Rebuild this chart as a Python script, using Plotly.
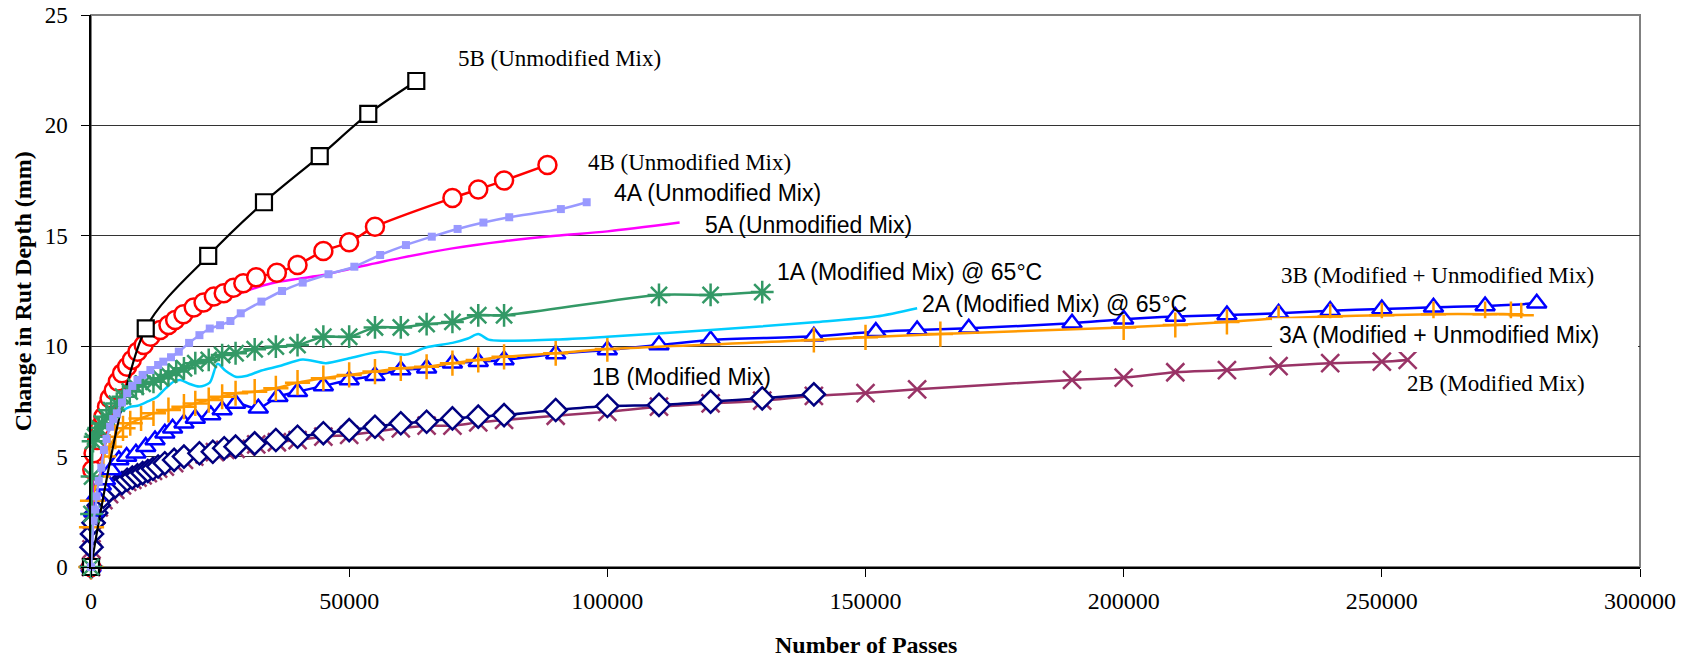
import plotly.graph_objects as go

# ---------------- data ----------------
x_5B = [0, 10600, 22700, 33500, 44300, 53700, 63000]
y_5B = [0, 10.81, 14.09, 16.52, 18.61, 20.52, 22.01]

x_4B = [0, 250, 500, 1200, 1800, 2400, 3100, 3600, 4400, 5200, 6000, 7000, 7900, 9000,
        10200, 11500, 13400, 15000, 16300, 17900, 19900, 21800, 23800, 25700, 27600,
        29500, 32000, 36000, 40000, 45000, 50000, 55000, 70000, 75000, 80000, 88400]
y_4B = [0, 4.4, 5.15, 5.75, 6.35, 6.8, 7.26, 7.64, 8.0, 8.4, 8.77, 9.07, 9.38, 9.75,
        10.05, 10.43, 10.73, 10.96, 11.19, 11.45, 11.75, 11.98, 12.25, 12.4, 12.65,
        12.85, 13.12, 13.33, 13.68, 14.31, 14.71, 15.41, 16.71, 17.1, 17.5, 18.21]

x_4A = [0, 500, 800, 1100, 1500, 2000, 2500, 3000, 3700, 4300, 5000, 6000, 7000, 8000,
        9000, 10000, 11500, 13000, 14000, 15500, 17000, 19000, 21000, 23000, 25000,
        27000, 29000, 33000, 37000, 41000, 46000, 51000, 56000, 61000, 66000, 71000,
        76000, 81000, 91000, 96000]
y_4A = [0, 2.1, 2.6, 3.2, 3.9, 4.5, 5.3, 5.8, 6.35, 6.7, 6.96, 7.45, 7.87, 8.2,
        8.47, 8.7, 8.92, 9.15, 9.3, 9.5, 9.75, 10.15, 10.5, 10.8, 10.95,
        11.14, 11.49, 12.02, 12.5, 12.88, 13.26, 13.6, 14.13, 14.58, 14.96, 15.31,
        15.6, 15.84, 16.21, 16.52]

x_5A = [0, 500, 1000, 2000, 3000, 4000, 5000, 6000, 8000, 10000, 12000, 15000, 18000,
        22000, 26000, 30000, 35000, 40000, 45000, 50000, 55000, 60000, 70000, 80000,
        90000, 100000, 114000]
y_5A = [0, 4.5, 5.6, 6.6, 7.2, 7.8, 8.4, 8.8, 9.5, 10.1, 10.6, 11.1, 11.5,
        11.9, 12.15, 12.5, 12.85, 13.05, 13.22, 13.5, 13.75, 14.0, 14.43, 14.75,
        15.0, 15.2, 15.6]

x_1A = [0, 100, 200, 400, 800, 1500, 2100, 3000, 3900, 5000, 6200, 7500, 8700, 10000,
        12100, 13500, 15000, 16500, 18000, 20200, 22800, 25400, 28000, 31700, 35800,
        40000, 45000, 50000, 55000, 60000, 65000, 70000, 75000, 80000, 110000, 120000,
        130000]
y_1A = [0, 2.4, 4.1, 5.7, 5.9, 6.3, 6.5, 6.8, 7.1, 7.4, 7.71, 7.95, 8.17, 8.3,
        8.39, 8.55, 8.7, 8.85, 9.0, 9.23, 9.38, 9.6, 9.68, 9.86, 9.98,
        10.05, 10.43, 10.43, 10.85, 10.85, 11.0, 11.1, 11.4, 11.4, 12.32, 12.32,
        12.45]

x_2A = [0, 500, 1000, 2000, 3000, 4000, 5000, 6300, 7600, 9000, 11000, 12800, 14500,
        16000, 17300, 19000, 21000, 23000, 24500, 26000, 28000, 30000, 33000, 36500,
        41000, 45500, 50000, 56000, 61000, 65000, 70000, 73000, 75000, 77000, 80000,
        90000, 100000, 120000, 140000, 152000, 160000]
y_2A = [0, 4.5, 5.3, 6.0, 6.4, 6.7, 6.9, 7.11, 7.26, 7.3, 7.5, 7.71, 8.1,
        8.39, 8.47, 8.3, 8.17, 8.35, 9.2, 8.9, 8.62, 8.65, 8.9, 9.1,
        9.4, 9.23, 9.45, 9.75, 9.62, 9.95, 10.15, 10.35, 10.55, 10.3, 10.25,
        10.3, 10.43, 10.73, 11.08, 11.34, 11.72]

x_3B = [0, 500, 1000, 2000, 2800, 3900, 5400, 6900, 8700, 10600, 12400, 14300, 15800,
        18000, 20200, 23200, 25400, 28000, 32400, 36200, 40000, 45000, 50000, 55000,
        60000, 65000, 70000, 75000, 80000, 90000, 100000, 110000, 120000, 140000,
        152000, 160000, 170000, 190000, 200000, 210000, 220000, 230000, 240000,
        250000, 260000, 270000, 280000]
y_3B = [0, 2.5, 3.2, 3.7, 3.94, 4.39, 4.85, 5.0, 5.15, 5.45, 5.75, 6.06, 6.28,
        6.51, 6.73, 6.88, 7.11, 7.41, 7.19, 7.71, 7.94, 8.2, 8.47, 8.66,
        8.92, 9.0, 9.23, 9.3, 9.38, 9.65, 9.83, 10.05, 10.28, 10.45,
        10.66, 10.73, 10.81, 11.04, 11.22, 11.34, 11.41, 11.49, 11.61,
        11.68, 11.76, 11.82, 11.94]

x_3A = [0, 100, 300, 1300, 2400, 3600, 4700, 6200, 7600, 9700, 12100, 15000, 18000,
        20200, 22800, 25400, 28000, 31700, 35800, 40000, 45000, 50000, 55000, 60000,
        65000, 70000, 75000, 80000, 90000, 100000, 140000, 150000, 164500, 200000,
        210000, 220000, 230000, 240000, 250000, 260000, 270000, 275000, 277000]
y_3A = [0, 1.8, 3.0, 4.1, 5.0, 5.45, 5.9, 6.28, 6.51, 6.73, 6.96, 7.11, 7.26,
        7.41, 7.56, 7.71, 7.87, 7.94, 8.09, 8.35, 8.55, 8.7, 8.85, 9.0,
        9.07, 9.23, 9.38, 9.52, 9.68, 9.87, 10.28, 10.4, 10.55, 10.85,
        10.96, 11.1, 11.26, 11.35, 11.4, 11.45, 11.45, 11.45, 11.4]

x_1B = [0, 100, 200, 500, 1000, 1500, 2400, 3500, 4700, 6000, 7000, 8000, 9000, 10000,
        11000, 12000, 13000, 14300, 16100, 18000, 21000, 23600, 25800, 28000, 31700,
        35800, 40000, 45000, 50000, 55000, 60000, 65000, 70000, 75000, 80000, 90000,
        100000, 110000, 120000, 130000, 140000]
y_1B = [0, 0.9, 1.5, 2.0, 2.45, 2.8, 3.18, 3.45, 3.64, 3.8, 3.95, 4.05, 4.15, 4.25,
        4.35, 4.45, 4.55, 4.7, 4.85, 5.0, 5.15, 5.22, 5.38, 5.45, 5.6,
        5.75, 5.9, 6.06, 6.2, 6.35, 6.51, 6.58, 6.73, 6.81, 6.88, 7.11,
        7.29, 7.34, 7.49, 7.64, 7.82]

x_2B = [0, 100, 200, 500, 1000, 1500, 2400, 3500, 4700, 6000, 7000, 8000, 9000, 10000,
        11000, 12000, 13000, 14300, 16100, 18000, 20000, 22000, 24000, 26000, 28000,
        30000, 32000, 36000, 40000, 45000, 50000, 55000, 60000, 65000, 70000, 75000,
        80000, 90000, 100000, 110000, 120000, 130000, 140000, 150000, 160000, 190000,
        200000, 210000, 220000, 230000, 240000, 250000, 255000]
y_2B = [0, 0.8, 1.4, 1.9, 2.35, 2.7, 3.03, 3.3, 3.49, 3.7, 3.85, 3.95, 4.05, 4.15,
        4.25, 4.35, 4.45, 4.55, 4.7, 4.85, 5.0, 5.1, 5.2, 5.3, 5.35,
        5.45, 5.55, 5.65, 5.75, 5.9, 5.98, 6.13, 6.28, 6.4, 6.4, 6.55,
        6.66, 6.85, 7.03, 7.26, 7.41, 7.53, 7.75, 7.88, 8.05, 8.47,
        8.58, 8.82, 8.92, 9.1, 9.23, 9.3, 9.38]

x_ticks = [0, 50000, 100000, 150000, 200000, 250000, 300000]
y_ticks = [0, 5, 10, 15, 20, 25]

label_texts = ["5B (Unmodified Mix)", "4B (Unmodified Mix)", "4A (Unmodified Mix)",
               "5A (Unmodified Mix)", "1A (Modified Mix) @ 65°C",
               "2A (Modified Mix) @ 65°C", "3B (Modified + Unmodified Mix)",
               "3A (Modified + Unmodified Mix)", "1B (Modified Mix)", "2B (Modified Mix)"]

# ---------------- layout geometry (page pixels) ----------------
W, H = 1692, 662
OFF = 0   # body margin is removed by the post script, so page px == figure px
PX0, PX1, PY0, PY1 = 90.7, 1640.0, 567.0, 14.7   # plot area on the page
X0, X1, Y0, Y1 = PX0 - OFF, PX1 - OFF, PY0 - OFF, PY1 - OFF  # in figure pixels


def pp(px, py):
    """page pixel -> paper coordinates"""
    fx, fy = px - OFF, py - OFF
    return (fx - X0) / (X1 - X0), (Y0 - fy) / (Y0 - Y1)


SERIF = "Liberation Serif"
SANS = "Liberation Sans"

# label positions: (left px, centre py, font) on the page
label_pos = [(456, 58, SERIF), (586, 162, SERIF), (612, 193, SANS), (703, 225, SANS),
             (775, 272, SANS), (920, 304, SANS), (1279, 275, SERIF), (1277, 335, SANS),
             (590, 377, SANS), (1405, 383, SERIF)]

fig = go.Figure()


def add(x, y, color, width, marker=None, name=""):
    kw = dict(x=x, y=y, name=name, line=dict(color=color, width=width, shape="spline",
                                            smoothing=0.8),
              cliponaxis=False, showlegend=False, hoverinfo="x+y+name")
    if marker is None:
        kw["mode"] = "lines"
    else:
        kw["mode"] = "lines+markers"
        kw["marker"] = marker
    fig.add_trace(go.Scatter(**kw))


add(x_2B, y_2B, "#993366", 2.5,
    dict(symbol="x-thin-open", size=18, line=dict(color="#993366", width=2.5)), "2B")
add(x_1B, y_1B, "#000080", 2.5,
    dict(symbol="diamond", size=17, color="white", line=dict(color="#000080", width=2.5)), "1B")
add(x_3B, y_3B, "#0000FF", 2.5,
    dict(symbol="triangle-up", size=17, color="white", line=dict(color="#0000FF", width=2.5)), "3B")
add(x_3A, y_3A, "#FF9900", 2.5,
    dict(symbol="cross-thin-open", size=18, line=dict(color="#FF9900", width=2.5)), "3A")
add(x_2A, y_2A, "#00CCFF", 2.5, None, "2A")
add(x_5A, y_5A, "#FF00FF", 2.5, None, "5A")
add(x_4B, y_4B, "#FF0000", 2.5,
    dict(symbol="circle", size=18, color="white", line=dict(color="#FF0000", width=2.5)), "4B")
add(x_5B, y_5B, "#000000", 2.2,
    dict(symbol="square", size=16, color="white", line=dict(color="#000000", width=2.2)), "5B")
add(x_1A, y_1A, "#339966", 2.5,
    dict(symbol="asterisk-open", size=19, line=dict(color="#339966", width=2.5)), "1A")
add(x_4A, y_4A, "#9999FF", 2.5,
    dict(symbol="square", size=8, color="#9999FF", line=dict(width=0)), "4A")

annotations = []
for txt, (lx, ly, fam) in zip(label_texts, label_pos):
    ax, ay = pp(lx, ly)
    annotations.append(dict(x=ax, y=ay, xref="paper", yref="paper", text=txt,
                            showarrow=False, xanchor="left", yanchor="middle",
                            font=dict(family=fam, size=23, color="black")))

# axis titles
tx, ty = pp((PX0 + PX1) / 2, 645)
annotations.append(dict(x=tx, y=ty, xref="paper", yref="paper", text="<b>Number of Passes</b>",
                        showarrow=False, xanchor="center", yanchor="middle",
                        font=dict(family=SERIF, size=24, color="black")))
tx, ty = pp(23, (PY0 + PY1) / 2)
annotations.append(dict(x=tx, y=ty, xref="paper", yref="paper",
                        text="<b>Change in Rut Depth (mm)</b>", textangle=-90,
                        showarrow=False, xanchor="center", yanchor="middle",
                        font=dict(family=SERIF, size=24, color="black")))

# white box behind the 3A label (covers gridline to the right border)
bx0, by0 = pp(1272, 352)
bx1, by1 = pp(1638, 318)
shapes = [
    dict(type="rect", xref="paper", yref="paper", x0=0, y0=0, x1=1, y1=1,
         line=dict(color="#808080", width=2), fillcolor="rgba(0,0,0,0)", layer="below"),
    dict(type="rect", xref="paper", yref="paper", x0=bx0, y0=by0, x1=bx1, y1=by1,
         line=dict(width=0), fillcolor="white", layer="above"),
]

fig.update_layout(
    width=W, height=H,
    margin=dict(l=X0, r=W - X1, t=Y1, b=H - Y0, pad=0, autoexpand=False),
    paper_bgcolor="white", plot_bgcolor="white",
    showlegend=False,
    annotations=annotations,
    shapes=shapes,
    xaxis=dict(range=[0, 300000], tickvals=x_ticks, ticktext=[str(v) for v in x_ticks],
               showgrid=False, zeroline=False, showline=True, linecolor="#000000",
               linewidth=1.5, ticks="outside", ticklen=8, tickcolor="#000000",
               tickwidth=1, ticklabelstandoff=3, automargin=False,
               ticklabeloverflow="allow",
               tickfont=dict(family=SERIF, size=24, color="black")),
    yaxis=dict(range=[0, 25], tickvals=y_ticks, ticktext=[str(v) for v in y_ticks],
               showgrid=True, gridcolor="#333333", gridwidth=1, zeroline=False,
               showline=True, linecolor="#000000", linewidth=1.5, ticks="outside",
               ticklen=8, tickcolor="#000000", tickwidth=1, ticklabelstandoff=9,
               automargin=False, ticklabeloverflow="allow",
               tickfont=dict(family=SERIF, size=23, color="black")),
)

fig.write_html("out.html", config={"displayModeBar": False},
               post_script="document.body.style.margin='0';document.body.style.overflow='hidden';")
